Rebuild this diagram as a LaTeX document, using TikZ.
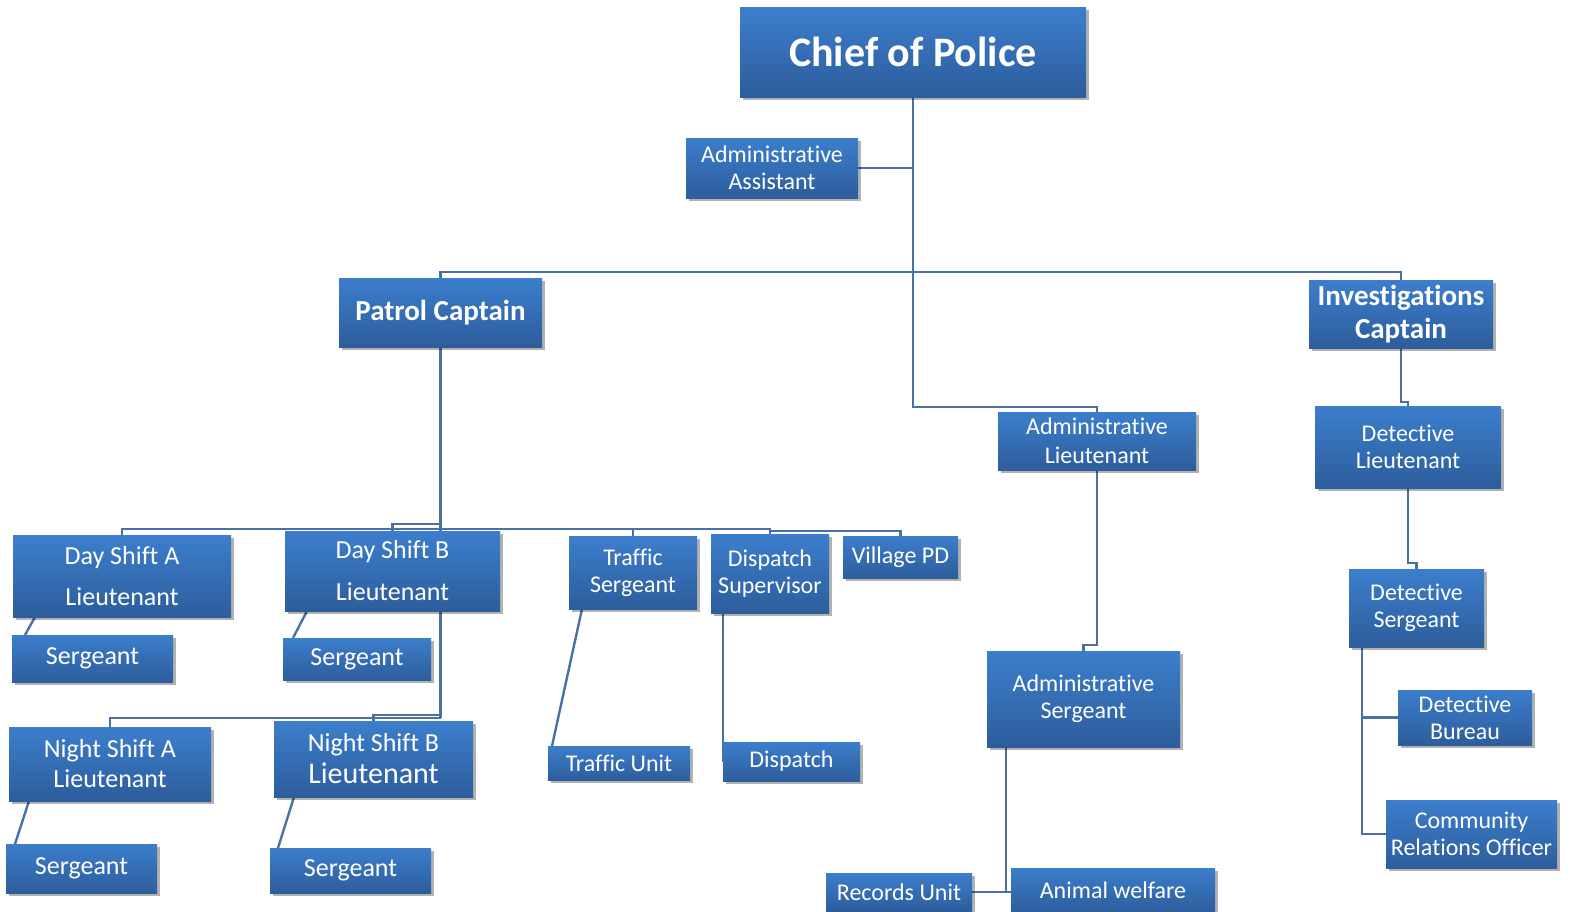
\documentclass[tikz,border=0pt]{standalone}
\usepackage{fontspec}
\setmainfont{Carlito}[RawFeature={-liga;-clig;-calt;-dlig}]
\usetikzlibrary{shadows,calc,backgrounds}
\definecolor{boxtop}{RGB}{60,126,204}
\definecolor{boxbot}{RGB}{45,93,156}
\definecolor{conncol}{RGB}{74,112,166}
\newcommand\fN{\fontsize{24}{27}\selectfont}
\newcommand\fL{\fontsize{26}{30}\selectfont}
\tikzset{
  box/.style={draw=none, inner sep=2pt, outer sep=0pt, anchor=north west, align=center,
    text=white, top color=boxtop, bottom color=boxbot, font=\fN,
    drop shadow={shadow xshift=3pt, shadow yshift=-3pt, fill=black, opacity=0.3}},
  conn/.style={draw=conncol, line width=2.4pt}
}
\begin{document}
\begin{tikzpicture}[x=1pt,y=-1pt]
\useasboundingbox (0,0) rectangle (1572,911);
\clip (0,0) rectangle (1572,911);
% nodes
\node[box, minimum width=346, minimum height=90, font=\bfseries\fontsize{42}{46}\selectfont] (chief) at (740,7) {Chief of Police};
\node[box, minimum width=172, minimum height=60] (aa) at (686,138) {Administrative\\Assistant};
\node[box, minimum width=203, minimum height=69, font=\bfseries\fontsize{29}{33}\selectfont] (patrol) at (339,278) {Patrol Captain};
\node[box, minimum width=184, minimum height=68, font=\bfseries\fontsize{29}{33}\selectfont] (inv) at (1309,280) {Investigations\\Captain};
\node[box, minimum width=198, minimum height=58, font=\fontsize{24}{29}\selectfont] (adml) at (998,412) {Administrative\\Lieutenant};
\node[box, minimum width=186, minimum height=82] (dl) at (1315,406) {Detective\\Lieutenant};
\node[box, minimum width=218, minimum height=82, font=\fontsize{26}{41}\selectfont] (dsa) at (13,535) {Day Shift A\\Lieutenant};
\node[box, minimum width=215, minimum height=80, font=\fontsize{26}{42}\selectfont] (dsb) at (285,531) {Day Shift B\\Lieutenant};
\node[box, minimum width=128, minimum height=73] (ts) at (569,536) {Traffic\\Sergeant};
\node[box, minimum width=118, minimum height=79] (dsup) at (711,534) {Dispatch\\Supervisor};
\node[box, minimum width=115, minimum height=42] (vpd) at (843,536) {Village PD};
\node[box, minimum width=161, minimum height=47, font=\fL] (sga) at (12,635) {Sergeant};
\node[box, minimum width=148, minimum height=42, font=\fL] (sgb) at (283,638) {Sergeant};
\node[box, minimum width=202, minimum height=74, font=\fL] (nsa) at (9,727) {Night Shift A\\Lieutenant};
\node[box, minimum width=199, minimum height=76, font=\fontsize{26}{32}\selectfont] (nsb) at (274,721) {Night Shift B\\\fontsize{30}{32}\selectfont Lieutenant};
\node[box, minimum width=151, minimum height=49, font=\fL] (sgna) at (6,844) {Sergeant};
\node[box, minimum width=161, minimum height=45, font=\fL] (sgnb) at (270,848) {Sergeant};
\node[box, minimum width=142, minimum height=34] (tu) at (548,746) {Traffic Unit};
\node[box, minimum width=137, minimum height=39] (disp) at (723,742) {Dispatch};
\node[box, minimum width=193, minimum height=96] (asg) at (987,651) {Administrative\\Sergeant};
\node[box, minimum width=146, minimum height=38] (ru) at (826,873) {Records Unit};
\node[box, minimum width=204, minimum height=44] (aw) at (1011,868) {Animal welfare};
\node[box, minimum width=135, minimum height=78] (dsg) at (1349,569) {Detective\\Sergeant};
\node[box, minimum width=134, minimum height=55] (db) at (1398,690) {Detective\\Bureau};
\node[box, minimum width=171, minimum height=68] (cro) at (1386,800) {Community\\Relations Officer};
% ---- connectors
\coordinate (c1) at (913,407);
\coordinate (asgx) at ($(asg.south west)+(19,0)$);
\coordinate (dsgx) at ($(dsg.south west)+(13,0)$);
\begin{pgfonlayer}{background}
\draw[conn] (chief.south) -- (c1) -| (adml.north);
\draw[conn] (aa.east) -- (aa.east -| chief.south);
\draw[conn] (patrol.north) -- (patrol.north |- 0,272) -- (inv.north |- 0,272) -- (inv.north);
\draw[conn] (patrol.south) -- (patrol.south |- 0,718);
\draw[conn] (patrol.south |- 0,529) -- (dsa.north |- 0,529) -- (dsa.north);
\draw[conn] (patrol.south |- 0,524) -- (dsb.north |- 0,524) -- (dsb.north);
\draw[conn] (patrol.south |- 0,529) -- (dsup.north |- 0,529) -- (dsup.north);
\draw[conn] (ts.north |- 0,529) -- (ts.north);
\draw[conn] (dsup.north |- 0,531) -- (vpd.north |- 0,531) -- (vpd.north);
\draw[conn] (patrol.south |- 0,718) -- (nsa.north |- 0,718) -- (nsa.north);
\draw[conn] (patrol.south |- 0,715) -- (nsb.north |- 0,715) -- (nsb.north);
\draw[conn] ($(dsa.south west)+(22,0)$) -- ($(sga.north west)+(13,0)$);
\draw[conn] ($(dsb.south west)+(22,0)$) -- ($(sgb.north west)+(10,0)$);
\draw[conn] ($(nsa.south west)+(20,0)$) -- ($(sgna.north west)+(9,0)$);
\draw[conn] ($(nsb.south west)+(20,0)$) -- ($(sgnb.north west)+(8,0)$);
\draw[conn] ($(ts.south west)+(13,0)$) -- ($(tu.north west)+(4,0)$);
\draw[conn] ($(dsup.south west)+(12,0)$) -- (disp.west);
\draw[conn] (adml.south) -- (adml.south |- 0,645) -| (asg.north);
\draw[conn] (asgx) -- (asgx |- ru.east);
\draw[conn] (ru.east) -- (aw.west |- ru.east);
\draw[conn] (inv.south) -- (inv.south |- 0,402) -| (dl.north);
\draw[conn] (dl.south) -- (dl.south |- 0,563) -| (dsg.north);
\draw[conn] (dsgx) |- (cro.west);
\draw[conn] (dsgx |- db.west) -- (db.west);
\end{pgfonlayer}
\end{tikzpicture}
\end{document}
